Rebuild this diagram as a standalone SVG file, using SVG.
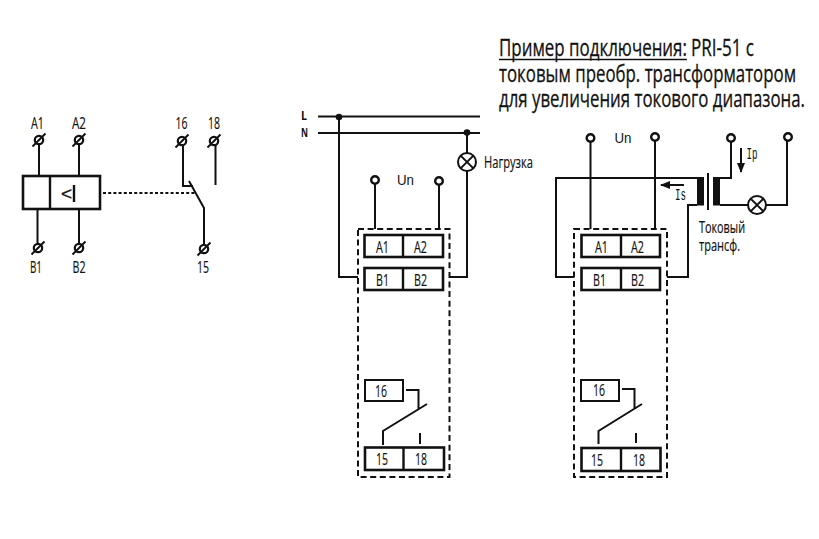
<svg xmlns="http://www.w3.org/2000/svg" width="819" height="539" viewBox="0 0 819 539">
<style>
text{font-family:"Open Sans","Noto Sans",sans-serif;fill:#111}
.t{font-size:23px;stroke:#111;stroke-width:.3}
.s{font-size:16px;stroke:#111;stroke-width:.15}
.c{font-size:16px;stroke:#111;stroke-width:.18}
.u{font-size:15px;font-family:"Liberation Sans",sans-serif}
.m{font-size:16px;font-family:"Liberation Mono",monospace}
.h{font-size:12px;font-weight:700}
.w{fill:none;stroke:#111;stroke-width:2}
.b{fill:#fff;stroke:#111;stroke-width:2.600}
.f{fill:#fff;stroke:#111;stroke-width:2}
.v{fill:none;stroke:#111;stroke-width:2.400}
.d{fill:none;stroke:#111;stroke-width:2;stroke-dasharray:6 3.600}
</style>
<defs>
<g id="scr"><circle r="4.200" fill="#fff" stroke="#111" stroke-width="2.200"/><path d="M-6.500 6.500L6.500-6.500" stroke="#111" stroke-width="2"/></g>
<g id="ring"><circle r="3.800" fill="#fff" stroke="#111" stroke-width="2.400"/></g>
<g id="lamp"><circle r="9" fill="#fff" stroke="#111" stroke-width="2"/><path d="M-6.400-6.400L6.400 6.400M-6.400 6.400L6.400-6.400" stroke="#111" stroke-width="2"/></g>
<marker id="ah" viewBox="0 0 10 8" refX="9" refY="4" markerWidth="10" markerHeight="8" markerUnits="userSpaceOnUse" orient="auto"><path d="M0 0L10 4L0 8Z" fill="#111"/></marker>
</defs>

<g id="connectors">
<path class="w" d="M39 145V176M79 145V176M37.500 209V244M79 209V244"/>
<path class="w" d="M103 193H196" stroke-dasharray="3 2.200"/>
<path class="w" d="M183 145V186H193M189 181L204 208V244M215.500 145V185"/>
<path class="w" d="M318 116.500H480M318 133H480M339 117V277H358M467 133V153M467 171V277H450M375 184V229M439 185V229"/>
<path class="w" d="M590.500 142V229M655 141V229M574 277H556V178H697M667 277H688V205H697M731 142V178H720M720 205H748M766 205H787V141"/>
<path class="w" d="M741 148V172" marker-end="url(#ah)"/>
<path class="w" d="M684 185H661" marker-end="url(#ah)"/>
</g>

<g id="relay-symbol">
<rect class="b" x="23" y="176" width="77" height="33"/>
<path class="v" d="M50 176V209"/>
<path class="v" d="M74 185V202"/>
<text x="61" y="200" style="font-size:19px;font-family:'Liberation Sans',sans-serif;stroke:#111;stroke-width:.3">&lt;</text>
</g>
<g id="t-a1"><use href="#scr" x="39" y="140"/><text class="s" x="31" y="129" textLength="13" lengthAdjust="spacingAndGlyphs">A1</text></g>
<g id="t-a2"><use href="#scr" x="79" y="140"/><text class="s" x="72" y="129" textLength="14" lengthAdjust="spacingAndGlyphs">A2</text></g>
<g id="t-b1"><use href="#scr" x="38" y="248"/><text class="s" x="30" y="272.500" textLength="12" lengthAdjust="spacingAndGlyphs">B1</text></g>
<g id="t-b2"><use href="#scr" x="79" y="248"/><text class="s" x="72.500" y="272.500" textLength="13" lengthAdjust="spacingAndGlyphs">B2</text></g>
<g id="t-16"><use href="#scr" x="182" y="141"/><text class="s" x="175.500" y="129" textLength="12" lengthAdjust="spacingAndGlyphs">16</text></g>
<g id="t-18"><use href="#scr" x="214" y="141"/><text class="s" x="208" y="129" textLength="12" lengthAdjust="spacingAndGlyphs">18</text></g>
<g id="t-15"><use href="#scr" x="204" y="249"/><text class="s" x="197" y="272.500" textLength="12" lengthAdjust="spacingAndGlyphs">15</text></g>

<g id="title">
<text class="t" transform="translate(499 56) scale(.72 1)" textLength="261" lengthAdjust="spacingAndGlyphs">Пример подключения:</text>
<path d="M499 59.500H687" stroke="#111" stroke-width="1.400"/>
<text class="t" transform="translate(691 56) scale(.72 1)" textLength="87.500" lengthAdjust="spacingAndGlyphs">PRI-51 с</text>
<text class="t" transform="translate(499 82) scale(.72 1)" textLength="412.500" lengthAdjust="spacingAndGlyphs">токовым преобр. трансформатором</text>
<text class="t" transform="translate(499 107) scale(.72 1)" textLength="425" lengthAdjust="spacingAndGlyphs">для увеличения токового диапазона.</text>
</g>

<g id="mains">
<circle cx="339" cy="117" r="3.300" fill="#111"/><circle cx="467" cy="132.500" r="3.300" fill="#111"/>
<text class="h" x="301" y="120" textLength="6" lengthAdjust="spacingAndGlyphs">L</text>
<text class="h" x="301" y="137" textLength="7" lengthAdjust="spacingAndGlyphs">N</text>
</g>
<g id="load-1"><use href="#lamp" x="467" y="162"/><text class="c" transform="translate(484 168) scale(.72 1)" textLength="68" lengthAdjust="spacingAndGlyphs">Нагрузка</text></g>
<g id="un-1"><use href="#ring" x="375" y="180"/><use href="#ring" x="439" y="181"/><text class="u" x="397" y="185" textLength="17" lengthAdjust="spacingAndGlyphs">Un</text></g>

<g id="relay-1">
<rect class="d" x="358" y="229" width="91.500" height="248"/>
<rect class="b" x="364.500" y="235" width="78.500" height="22"/><path class="v" d="M403 235V257"/>
<rect class="b" x="364.500" y="268" width="78.500" height="22"/><path class="v" d="M403 268V290"/>
<text class="s" x="376" y="253" textLength="13" lengthAdjust="spacingAndGlyphs">A1</text><text class="s" x="414" y="253" textLength="13" lengthAdjust="spacingAndGlyphs">A2</text>
<text class="s" x="376" y="286" textLength="13" lengthAdjust="spacingAndGlyphs">B1</text><text class="s" x="414" y="286" textLength="13" lengthAdjust="spacingAndGlyphs">B2</text>
<rect class="f" x="365" y="380" width="38" height="21"/>
<text class="s" x="375" y="397" textLength="12" lengthAdjust="spacingAndGlyphs">16</text>
<path class="w" d="M406 390H418.500V410M427 404L383 431V445M420 433V444"/>
<rect class="b" x="365" y="447.500" width="79" height="22.500"/><path class="v" d="M403.500 447V470"/>
<text class="s" x="376" y="465" textLength="12" lengthAdjust="spacingAndGlyphs">15</text><text class="s" x="415" y="465" textLength="12" lengthAdjust="spacingAndGlyphs">18</text>
</g>

<g id="un-2"><use href="#ring" x="590.500" y="138"/><use href="#ring" x="655" y="137"/><text class="u" x="614.500" y="143" textLength="17" lengthAdjust="spacingAndGlyphs">Un</text></g>
<g id="relay-2">
<rect class="d" x="574" y="229" width="93" height="248"/>
<rect class="b" x="581.500" y="235" width="78.500" height="22"/><path class="v" d="M621 235V257"/>
<rect class="b" x="581.500" y="268" width="78.500" height="22"/><path class="v" d="M621 268V290"/>
<text class="s" x="595" y="253" textLength="13" lengthAdjust="spacingAndGlyphs">A1</text><text class="s" x="631" y="253" textLength="13" lengthAdjust="spacingAndGlyphs">A2</text>
<text class="s" x="593" y="286" textLength="13" lengthAdjust="spacingAndGlyphs">B1</text><text class="s" x="631" y="286" textLength="13" lengthAdjust="spacingAndGlyphs">B2</text>
<rect class="f" x="581" y="380" width="38" height="21"/>
<text class="s" x="593" y="396" textLength="12" lengthAdjust="spacingAndGlyphs">16</text>
<path class="w" d="M622 389H634.500V409M642 404L598.500 431V444M636 433V443"/>
<rect class="b" x="581.500" y="448" width="79" height="23"/><path class="v" d="M621 448V471"/>
<text class="s" x="591" y="466" textLength="12" lengthAdjust="spacingAndGlyphs">15</text><text class="s" x="633" y="466" textLength="12" lengthAdjust="spacingAndGlyphs">18</text>
</g>

<g id="transformer">
<rect x="697" y="177" width="7" height="28.500" fill="#111"/>
<rect x="713" y="177" width="7" height="28.500" fill="#111"/>
<path d="M708 173V210" stroke="#111" stroke-width="2"/>
<text class="c" transform="translate(699 233) scale(.72 1)" textLength="64" lengthAdjust="spacingAndGlyphs">Токовый</text>
<text class="c" transform="translate(699 250.500) scale(.72 1)" textLength="57" lengthAdjust="spacingAndGlyphs">трансф.</text>
<text class="m" x="675" y="200" textLength="11" lengthAdjust="spacingAndGlyphs">Is</text>
<text class="m" x="746.500" y="159" textLength="11" lengthAdjust="spacingAndGlyphs">Ip</text>
</g>
<g id="primary"><use href="#ring" x="731" y="138"/><use href="#ring" x="788" y="137"/><use href="#lamp" x="757" y="205"/></g>
</svg>
